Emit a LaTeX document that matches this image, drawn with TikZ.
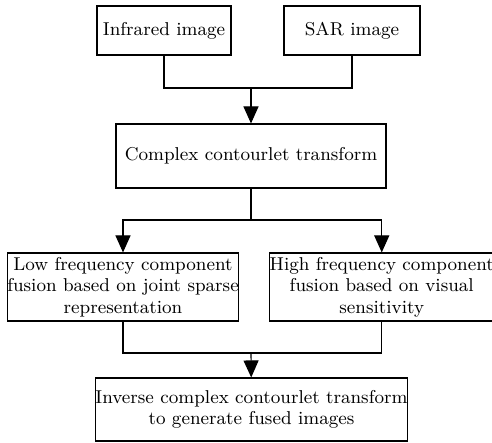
\documentclass[tikz,border=0pt]{standalone}
\usepackage{tikz}
\usetikzlibrary{arrows.meta,positioning}
\tikzset{
  blk/.style = {rectangle, draw=black, line width=0.55pt, inner sep=0pt,
                align=center, font=\fontsize{9.3}{10.8}\selectfont},
  ln/.style  = {draw=black, line width=0.55pt},
  ar/.style  = {-{Triangle[length=8.5pt,width=7.5pt]}, draw=black, line width=0.55pt},
}
\begin{document}
\begin{tikzpicture}[x=0.5pt,y=-0.5pt]
  \useasboundingbox (0,0) rectangle (492,443);
  % inputs
  \node[blk, minimum width=67pt, minimum height=24.5pt] (inf) at (164,30.5) {Infrared image};
  \node[blk, minimum width=68pt, minimum height=24.5pt] (sar) at (352,30.5) {SAR image};
  \node[blk, minimum width=135pt, minimum height=32pt] (cct) at (251,156) {Complex contourlet transform};
  % fusion rules
  \node[blk, minimum width=114pt, minimum height=34pt] (low) at (123,287)
    {Low frequency component\\fusion based on joint sparse\\representation};
  \node[blk, minimum width=109.5pt, minimum height=34pt] (high) at (381.75,287)
    {High frequency component\\fusion based on visual\\sensitivity};
  \node[blk, minimum width=154.5pt, minimum height=31.5pt] (icct) at (251.5,409.5)
    {Inverse complex contourlet transform\\to generate fused images};
  \coordinate (j1) at (251,88);
  \coordinate (j2) at (251,220);
  \coordinate (j3) at (251,353);
  \draw[ln] (inf.south) |- (j1) -| (sar.south);
  \draw[ar] (j1) -- (cct);
  \draw[ln] (cct.south) -- (j2);
  \foreach \n in {low, high}{ \draw[ar] (j2) -| (\n.north); }
  \draw[ln] (low.south) |- (j3) -| (high.south);
  \draw[ar] (j3) -- (icct);
\end{tikzpicture}
\end{document}
